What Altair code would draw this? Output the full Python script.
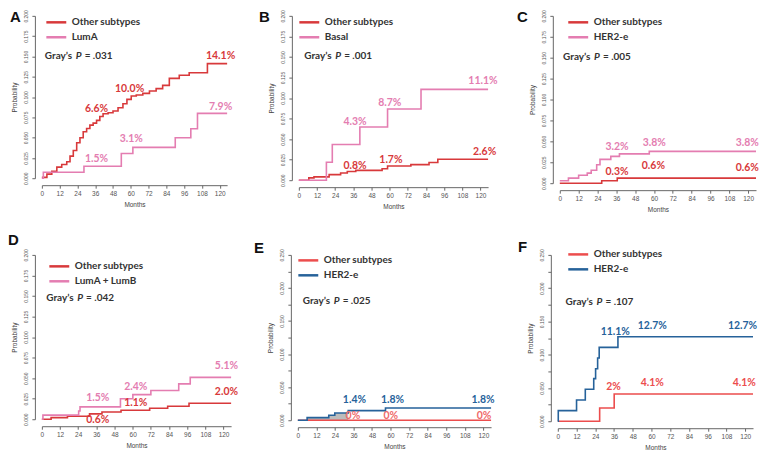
import altair as alt
import pandas as pd

OTHER = "Other subtypes"
RED = "#d8393b"
RED_LIGHT = "#ec4d4d"
PINK = "#e47db1"
BLUE = "#26629a"
RED_LABEL_LIGHT = "#ef6a6a"
SHADE = "#b5b5b5"

# ---------------- Panel A ----------------
A_OTHER_T = [0, 3.4, 6.7, 10.1, 13.4, 16.8, 19, 21.2, 23.5, 25.7, 27.9, 30.2, 32.4, 34.6, 36.9, 39.1, 41.3,
             44.7, 48, 51.4, 54.7, 57.4, 60.3, 63.7, 68.1, 72.6, 77.1, 81.5, 86, 92.7, 99.4, 111.7, 125]
A_OTHER_P = [0.001, 0.005, 0.0086, 0.0136, 0.0169, 0.0202, 0.0272, 0.0342, 0.0436, 0.0498, 0.0572, 0.0613,
             0.0654, 0.0679, 0.0712, 0.0761, 0.0794, 0.0807, 0.0827, 0.0868, 0.0918, 0.0971, 0.1012, 0.1025,
             0.1045, 0.1074, 0.1103, 0.1144, 0.123, 0.1268, 0.130, 0.1412, 0.1412]
A_SUB_T = [0, 1, 28.4, 53.6, 61.4, 90, 100.5, 105, 125]
A_SUB_P = [0, 0.0074, 0.0148, 0.0305, 0.038, 0.0498, 0.061, 0.0799, 0.0799]
A_LAB_TXT = ["6.6%", "10.0%", "14.1%", "7.9%", "3.1%", "1.5%"]
A_LAB_T = [36.9, 59.2, 120.6, 120.6, 60.3, 36.9]
A_LAB_P = [0.0848, 0.110, 0.150, 0.088, 0.0478, 0.0233]
A_LAB_C = [RED, RED, RED, PINK, PINK, PINK]

# ---------------- Panel B ----------------
B_OTHER_T = [0, 6.6, 10, 20, 27.6, 32, 37.6, 55, 58.6, 74, 86, 91.8, 125]
B_OTHER_P = [0, 0.0028, 0.004, 0.0068, 0.0088, 0.0105, 0.012, 0.014, 0.0172, 0.019, 0.0216, 0.0255, 0.0255]
B_SUB_T = [0, 18.2, 22.1, 40.3, 58.6, 80.7, 125]
B_SUB_P = [0, 0.0219, 0.0435, 0.0647, 0.0866, 0.1105, 0.1105]
B_LAB_TXT = ["11.1%", "8.7%", "4.3%", "0.8%", "1.7%", "2.6%"]
B_LAB_T = [121.6, 60.1, 37.1, 37.1, 60.8, 122.7]
B_LAB_P = [0.1206, 0.0938, 0.0707, 0.0176, 0.0248, 0.0347]
B_LAB_C = [PINK, PINK, PINK, RED, RED, RED]

# ---------------- Panel C ----------------
C_OTHER_T = [0, 26.7, 36.6, 125]
C_OTHER_P = [0, 0.003, 0.006, 0.006]
C_SUB_T = [0, 5.5, 12, 17.5, 20, 23.5, 25.6, 32.5, 38, 57, 125]
C_SUB_P = [0.003, 0.006, 0.0095, 0.012, 0.0155, 0.022, 0.0285, 0.032, 0.035, 0.038, 0.038]
C_LAB_TXT = ["3.2%", "3.8%", "3.8%", "0.3%", "0.6%", "0.6%"]
C_LAB_T = [36.5, 60.2, 119.4, 36.5, 59.6, 119.4]
C_LAB_P = [0.0432, 0.0482, 0.0482, 0.0138, 0.0205, 0.0176]
C_LAB_C = [PINK, PINK, PINK, RED, RED, RED]

# ---------------- Panel D ----------------
D_OTHER_T = [0, 6.1, 16.9, 31.5, 39.7, 52.3, 71.2, 83.1, 97.2, 125]
D_OTHER_P = [0, 0.002, 0.0036, 0.0065, 0.0089, 0.011, 0.0134, 0.0158, 0.0195, 0.0195]
D_SUB_T = [0, 0.7, 24.3, 25.2, 51.9, 60.1, 72, 90.4, 98, 125]
D_SUB_P = [0, 0.005, 0.010, 0.015, 0.025, 0.030, 0.035, 0.043, 0.051, 0.051]
D_LAB_TXT = ["5.1%", "2.0%", "2.4%", "1.1%", "1.5%", "0.6%"]
D_LAB_T = [121.9, 121.9, 62, 62, 36.9, 36.9]
D_LAB_P = [0.065, 0.0333, 0.0398, 0.0195, 0.0256, -0.0012]
D_LAB_C = [PINK, RED, PINK, RED, PINK, RED]

# ---------------- Panel E ----------------
E_OTHER_T = [0, 125]
E_OTHER_P = [0, 0]
E_SUB_T = [0, 6, 20, 23.9, 32.6, 56.7, 125]
E_SUB_P = [0, 0.004, 0.0075, 0.011, 0.0145, 0.0184, 0.0184]
E_SHADE_T = [6, 20, 23.9, 32.6]
E_SHADE_P = [0.004, 0.0075, 0.011, 0.011]
E_LAB_TXT = ["1.4%", "1.8%", "1.8%", "0%", "0%", "0%"]
E_LAB_T = [36.6, 61.2, 119.8, 35.6, 60.1, 120.4]
E_LAB_P = [0.0299, 0.0299, 0.0299, 0.007, 0.007, 0.007]
E_LAB_C = [BLUE, BLUE, BLUE, RED_LABEL_LIGHT, RED_LABEL_LIGHT, RED_LABEL_LIGHT]

# ---------------- Panel F ----------------
F_OTHER_T = [0, 26.8, 36.1, 125]
F_OTHER_P = [0, 0.020, 0.041, 0.041]
F_SUB_T = [0, 0.3, 12, 17.6, 23, 24.2, 25.5, 26.5, 38.5, 125]
F_SUB_P = [0, 0.016, 0.032, 0.048, 0.064, 0.079, 0.095, 0.111, 0.127, 0.127]
F_LAB_TXT = ["11.1%", "12.7%", "12.7%", "2%", "4.1%", "4.1%"]
F_LAB_T = [36.8, 60.5, 118.3, 35.7, 60.5, 119.4]
F_LAB_P = [0.1344, 0.1427, 0.1427, 0.0518, 0.0571, 0.0571]
F_LAB_C = [BLUE, BLUE, BLUE, RED_LIGHT, RED_LIGHT, RED_LIGHT]

LETTERS = ["A", "B", "C", "D", "E", "F"]
SUBTYPES = ["LumA", "Basal", "HER2-e", "LumA + LumB", "HER2-e", "HER2-e"]
P_VALUES = [".031", ".001", ".005", ".042", ".025", ".107"]
GRAY_T = [2, 3.6, 2.1, 2.9, 3.2, 5]
GRAY_P = [0.1506, 0.1506, 0.151, 0.148, 0.1809, 0.1798]
Y_MAX = [0.2, 0.2, 0.2, 0.2, 0.25, 0.25]
X_TICKS = [0, 12, 24, 36, 48, 60, 72, 84, 96, 108, 120]

# layout (pixels, relative to each panel's plot area)
WIDTHS = [186, 190, 197, 190, 194, 196]
HEIGHTS = [163, 165, 168, 165, 166, 167]
LEG_X = [8, 4, 12, 11, 4, 14]
LEG_Y = [0, 0, 0, 5, -1, -7]
LETTER_X = [-32, -40, -43, -34, -44, -40]
LETTER_Y = [-6, -6, -6, -22, -14, -15]

FONT = "Lato"
AXFONT = "Liberation Sans"

XAXIS = dict(grid=False, offset=7, tickSize=3, tickColor="#666", domainColor="#666",
             labelFont=AXFONT, labelFontSize=6.5, labelColor="#555", labelPadding=2,
             labelOverlap=False, labelFlush=False, titleFont=AXFONT, titleFontSize=6.5,
             titleFontWeight="normal", titleColor="#444", titlePadding=5)
YAXIS = dict(grid=False, offset=7, tickSize=3, tickColor="#666", domainColor="#666",
             labelFont=AXFONT, labelFontSize=5, labelColor="#555", labelPadding=3,
             labelAngle=270, labelAlign="center", labelBaseline="bottom",
             labelOverlap=False, labelFlush=False, titleFont=AXFONT, titleFontSize=6.5,
             titleFontWeight="normal", titleColor="#444", titlePadding=6.5)
LEGEND = dict(title=None, orient="none", symbolType="M-2,0L2,0", symbolSize=100,
              symbolStrokeWidth=2.5, labelFont=FONT, labelFontSize=10, labelFontWeight="bold",
              labelColor="#333", labelOffset=9, rowPadding=3, padding=0)

PANELS = [
    (A_OTHER_T, A_OTHER_P, A_SUB_T, A_SUB_P, RED, PINK, A_LAB_TXT, A_LAB_T, A_LAB_P, A_LAB_C),
    (B_OTHER_T, B_OTHER_P, B_SUB_T, B_SUB_P, RED, PINK, B_LAB_TXT, B_LAB_T, B_LAB_P, B_LAB_C),
    (C_OTHER_T, C_OTHER_P, C_SUB_T, C_SUB_P, RED, PINK, C_LAB_TXT, C_LAB_T, C_LAB_P, C_LAB_C),
    (D_OTHER_T, D_OTHER_P, D_SUB_T, D_SUB_P, RED, PINK, D_LAB_TXT, D_LAB_T, D_LAB_P, D_LAB_C),
    (E_OTHER_T, E_OTHER_P, E_SUB_T, E_SUB_P, RED_LIGHT, BLUE, E_LAB_TXT, E_LAB_T, E_LAB_P, E_LAB_C),
    (F_OTHER_T, F_OTHER_P, F_SUB_T, F_SUB_P, RED_LIGHT, BLUE, F_LAB_TXT, F_LAB_T, F_LAB_P, F_LAB_C),
]


def make_panel(i):
    o_t, o_p, s_t, s_p, o_col, s_col, l_txt, l_t, l_p, l_c = PANELS[i]
    sub = SUBTYPES[i]
    names = [OTHER, sub]
    ymax = Y_MAX[i]
    df = pd.DataFrame({"t": o_t + s_t, "p": o_p + s_p,
                       "g": [OTHER] * len(o_t) + [sub] * len(s_t)})
    n = int(round(ymax / 0.025))
    yvals = [round(k * 0.025, 3) for k in range(n + 1)]
    if ymax > 0.2:
        lexpr = "(round(datum.value*1000) % 50 == 0) ? format(datum.value, '.3f') : ''"
    else:
        lexpr = "format(datum.value, '.3f')"
    xenc = alt.X("t:Q", scale=alt.Scale(domain=[0, 125], nice=False, zero=False),
                 axis=alt.Axis(values=X_TICKS, title="Months", **XAXIS))
    yenc = alt.Y("p:Q", scale=alt.Scale(domain=[0, ymax], nice=False, zero=False),
                 axis=alt.Axis(values=yvals, labelExpr=lexpr, title="Probability", **YAXIS))
    layers = []
    if i == 4:
        sdf = pd.DataFrame({"t": E_SHADE_T, "p": E_SHADE_P})
        layers.append(alt.Chart(sdf).mark_area(interpolate="step-after", color=SHADE, opacity=0.9)
                      .encode(x=xenc, y=yenc))
    lines = alt.Chart(df).mark_line(interpolate="step-after", strokeWidth=1.6).encode(
        x=xenc, y=yenc,
        color=alt.Color("g:N", scale=alt.Scale(domain=names, range=[o_col, s_col]),
                        legend=alt.Legend(legendX=LEG_X[i], legendY=LEG_Y[i], **LEGEND)))
    layers.append(lines)
    labs = pd.DataFrame({"txt": l_txt, "t": l_t, "p": l_p, "c": l_c})
    layers.append(alt.Chart(labs).mark_text(font=FONT, fontSize=10.5, fontWeight="bold").encode(
        x=xenc, y=yenc, text="txt:N", fill=alt.Fill("c:N", scale=None)))
    gdf = pd.DataFrame({"t": [GRAY_T[i]], "p": [GRAY_P[i]], "a": ["Gray\u2019s"], "b": ["P"],
                        "c": ["= " + P_VALUES[i]]})
    layers.append(alt.Chart(gdf).mark_text(align="left", font=FONT, fontSize=10, fontWeight="bold",
                                           color="#333").encode(x=xenc, y=yenc, text="a:N"))
    layers.append(alt.Chart(gdf).mark_text(align="left", font=FONT, fontSize=10, fontWeight="bold",
                                           fontStyle="italic", color="#333", dx=31)
                  .encode(x=xenc, y=yenc, text="b:N"))
    layers.append(alt.Chart(gdf).mark_text(align="left", font=FONT, fontSize=10, fontWeight="bold",
                                           color="#333", dx=40).encode(x=xenc, y=yenc, text="c:N"))
    # panel letter (annotation placed relative to the plot area)
    ldf = pd.DataFrame({"letter": [LETTERS[i]]})
    layers.append(alt.Chart(ldf).mark_text(align="left", baseline="top", font=AXFONT, fontSize=15,
                                           fontWeight="bold", color="#111")
                  .encode(x=alt.value(LETTER_X[i]), y=alt.value(LETTER_Y[i]), text="letter:N"))
    return alt.layer(*layers).properties(width=WIDTHS[i], height=HEIGHTS[i])


row1 = alt.hconcat(make_panel(0), make_panel(1), make_panel(2), spacing=72,
                   bounds="flush").resolve_scale(color="independent")
row2 = alt.hconcat(make_panel(3), make_panel(4), make_panel(5), spacing=67,
                   bounds="flush").resolve_scale(color="independent")
chart = alt.vconcat(row1, row2, spacing=20, padding=0).resolve_scale(
    color="independent").configure_view(stroke=None)

chart.save("out.html", embed_options={"renderer": "svg", "actions": False})
